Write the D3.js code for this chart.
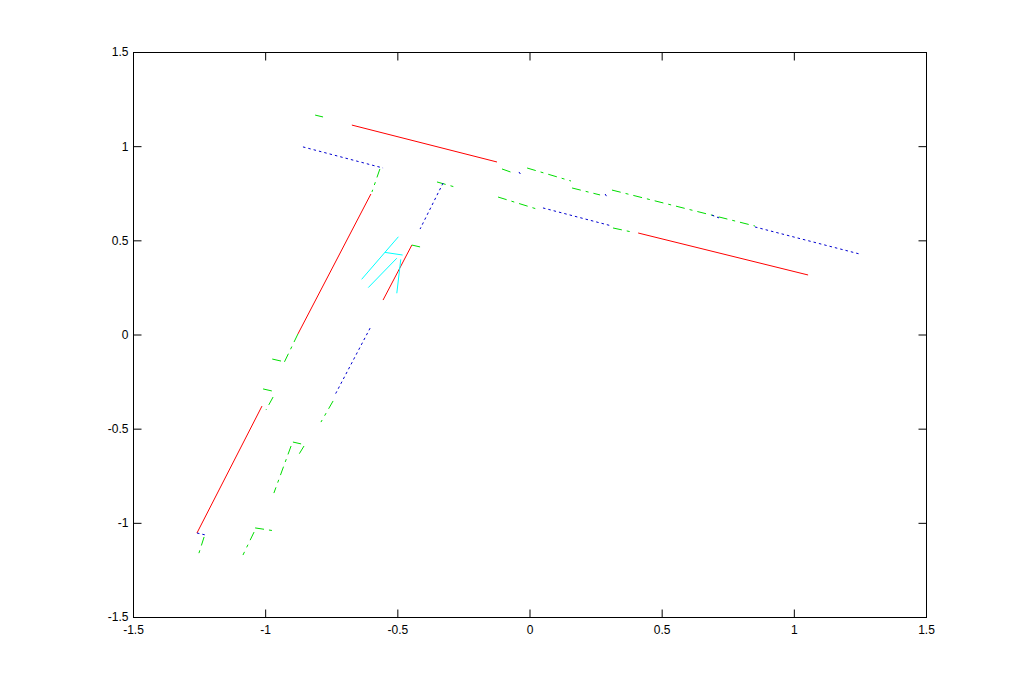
<!DOCTYPE html>
<html>
<head>
<meta charset="utf-8">
<script src="https://cdn.jsdelivr.net/npm/d3@7"></script>
<style>
  body { margin: 0; background: #fff; }
  .axis text { font-family: "Liberation Sans", Arial, sans-serif; font-size: 12px; fill: #000; }
  .axis path { display: none; }
  .axis line { stroke: #000; }
</style>
</head>
<body>
<div id="chart"></div>
<script>
// tick values
var xTicks = [-1.5, -1, -0.5, 0, 0.5, 1, 1.5];
var yTicks = [-1.5, -1, -0.5, 0, 0.5, 1, 1.5];

// segments as [x1, y1, x2, y2]
var redSegments = [
  [-0.672, 1.112, -0.123, 0.916],
  [0.411, 0.539, 1.054, 0.316],
  [-0.600, 0.746, -0.876, 0.003],
  [-1.012, -0.380, -1.258, -1.054],
  [-0.445, 0.475, -0.554, 0.183]
];
var blueSegments = [
  [-0.857, 0.996, -0.554, 0.884],
  [-0.327, 0.804, -0.414, 0.560],
  [-0.603, 0.034, -0.736, -0.321],
  [0.051, 0.672, 0.312, 0.576],
  [0.853, 0.571, 1.250, 0.427],
  [-1.258, -1.054, -1.224, -1.065],
  [-0.040, 0.863, -0.032, 0.847],
  [0.286, 0.746, 0.293, 0.730],
  [0.690, 0.634, 0.717, 0.619]
];
var greenSegments = [
  [-0.811, 1.165, -0.781, 1.155],
  [-0.566, 0.879, -0.596, 0.757],
  [-0.350, 0.810, -0.282, 0.783],
  [-0.445, 0.475, -0.414, 0.465],
  [-0.876, 0.003, -0.929, -0.151],
  [-0.940, -0.141, -0.974, -0.130],
  [-1.008, -0.289, -0.974, -0.300],
  [-0.970, -0.332, -0.997, -0.401],
  [-1.231, -1.075, -1.254, -1.176],
  [-0.743, -0.353, -0.789, -0.465],
  [-0.895, -0.571, -0.864, -0.581],
  [-0.853, -0.592, -0.876, -0.645],
  [-0.902, -0.592, -0.967, -0.842],
  [-1.038, -1.027, -0.963, -1.043],
  [-1.042, -1.049, -1.084, -1.171],
  [-0.119, 0.730, 0.028, 0.666],
  [0.316, 0.5655, 0.388, 0.544],
  [-0.104, 0.879, -0.062, 0.858],
  [-0.009, 0.884, 0.157, 0.815],
  [0.161, 0.778, 0.267, 0.741],
  [0.312, 0.767, 0.853, 0.576]
];
var cyanSegments = [
  [-0.496, 0.519, -0.635, 0.293],
  [-0.547, 0.436, -0.480, 0.422],
  [-0.502, 0.405, -0.610, 0.249],
  [-0.487, 0.399, -0.502, 0.219]
];

var width = 1024, height = 694;
var plot = { left: 133, top: 52, right: 926, bottom: 617 };

var x = d3.scaleLinear().domain([-1.5, 1.5]).range([plot.left, plot.right]);
var y = d3.scaleLinear().domain([-1.5, 1.5]).range([plot.bottom, plot.top]);

var svg = d3.select('#chart').append('svg')
  .attr('width', width)
  .attr('height', height);

svg.append('rect')
  .attr('width', width)
  .attr('height', height)
  .attr('fill', '#fff');

// line series
function drawSegments(segs, color, dash) {
  svg.append('g')
    .selectAll('line')
    .data(segs)
    .enter().append('line')
    .attr('x1', function (d) { return x(d[0]); })
    .attr('y1', function (d) { return y(d[1]); })
    .attr('x2', function (d) { return x(d[2]); })
    .attr('y2', function (d) { return y(d[3]); })
    .attr('stroke', color)
    .attr('stroke-width', 1)
    .attr('stroke-dasharray', dash);
}
drawSegments(redSegments, '#ff0000', null);
drawSegments(greenSegments, '#00dd00', '9,5,3,5');
drawSegments(blueSegments, '#0000d0', '2.5,3');
drawSegments(cyanSegments, '#00ffff', null);

// plain hyphen minus, like the original
var fmt = function (d) { return String(d); };

// axes, ticks pointing inward on all four sides
svg.append('g')
  .attr('class', 'axis')
  .attr('transform', 'translate(0,' + (plot.bottom + 0.5) + ')')
  .call(d3.axisBottom(x).tickValues(xTicks).tickFormat(fmt).tickSizeInner(-8).tickSizeOuter(0).tickPadding(8));
svg.append('g')
  .attr('class', 'axis')
  .attr('transform', 'translate(0,' + (plot.top + 0.5) + ')')
  .call(d3.axisTop(x).tickValues(xTicks).tickFormat('').tickSizeInner(-8).tickSizeOuter(0));
svg.append('g')
  .attr('class', 'axis')
  .attr('transform', 'translate(' + (plot.left + 0.5) + ',0)')
  .call(d3.axisLeft(y).tickValues(yTicks).tickFormat(fmt).tickSizeInner(-8).tickSizeOuter(0).tickPadding(5));
svg.append('g')
  .attr('class', 'axis')
  .attr('transform', 'translate(' + (plot.right + 0.5) + ',0)')
  .call(d3.axisRight(y).tickValues(yTicks).tickFormat('').tickSizeInner(-8).tickSizeOuter(0));

// box
svg.append('rect')
  .attr('x', plot.left + 0.5)
  .attr('y', plot.top + 0.5)
  .attr('width', plot.right - plot.left)
  .attr('height', plot.bottom - plot.top)
  .attr('fill', 'none')
  .attr('stroke', '#000');
</script>
</body>
</html>
